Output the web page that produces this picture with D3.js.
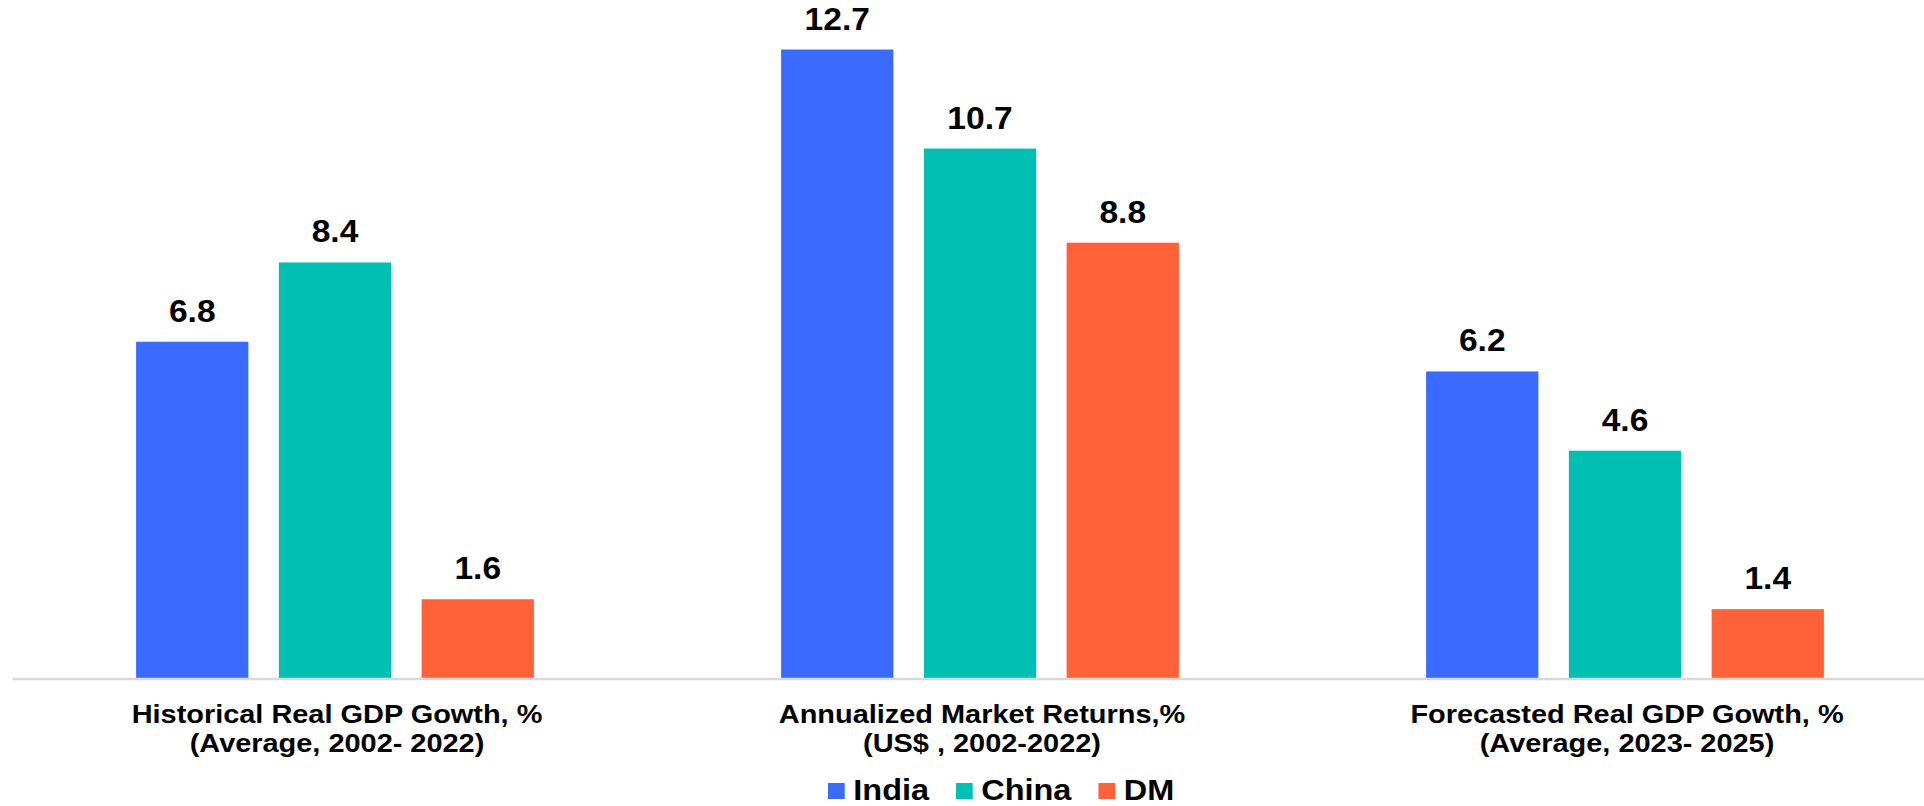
<!DOCTYPE html>
<html>
<head>
<meta charset="utf-8">
<script src="https://cdn.jsdelivr.net/npm/d3@7"></script>
<style>
  html, body { margin: 0; padding: 0; background: #ffffff; }
  svg { display: block; }
  text { font-family: "Liberation Sans", Arial, Helvetica, sans-serif; font-weight: bold; fill: #000; }
</style>
</head>
<body>
<svg id="chart" width="1924" height="806"></svg>
<script>
// Metric groups along the x axis (two-line labels)
const categories = [
  ["Historical Real GDP Gowth, %", "(Average, 2002- 2022)"],
  ["Annualized Market Returns,%", "(US$ , 2002-2022)"],
  ["Forecasted Real GDP Gowth, %", "(Average, 2023- 2025)"]
];
const seriesNames = ["India", "China", "DM"];
const seriesColors = ["#3A6BFE", "#02BFB3", "#FF6139"];

// Values per series, one per metric group
const india = [6.8, 12.7, 6.2];
const china = [8.4, 10.7, 4.6];
const dm = [1.6, 8.8, 1.4];

const seriesValues = [india, china, dm];
const stretch = 1.1; // horizontal widening of all chart text

const svg = d3.select("#chart");
const baseY = 678.5;

const x0 = d3.scaleBand()
  .domain(d3.range(categories.length))
  .range([12.5, 1947.5])
  .paddingInner(0).paddingOuter(0);

const groupWidth = 397.8;
const x1 = d3.scaleBand()
  .domain(seriesNames)
  .range([-groupWidth / 2, groupWidth / 2])
  .paddingInner(0.2136).paddingOuter(0);

const y = d3.scaleLinear().domain([0, 13.7]).range([baseY, 0]);

const color = d3.scaleOrdinal().domain(seriesNames).range(seriesColors);

const rows = [];
categories.forEach((c, i) => {
  seriesNames.forEach((s, j) => {
    rows.push({ cat: i, series: s, value: seriesValues[j][i] });
  });
});

const cx = i => x0(i) + x0.bandwidth() / 2;

// Bars
svg.append("g").selectAll("rect")
  .data(rows)
  .join("rect")
  .attr("x", d => cx(d.cat) + x1(d.series))
  .attr("y", d => y(d.value))
  .attr("width", x1.bandwidth())
  .attr("height", d => y(0) - y(d.value))
  .attr("fill", d => color(d.series));

// Baseline
svg.append("line")
  .attr("x1", x0.range()[0]).attr("x2", x0.range()[1])
  .attr("y1", baseY + 0.5).attr("y2", baseY + 0.5)
  .attr("stroke", "#d9d9d9").attr("stroke-width", 2.6);

// Value labels
svg.append("g").selectAll("text")
  .data(rows)
  .join("text")
  .attr("transform", d => `translate(${cx(d.cat) + x1(d.series) + x1.bandwidth() / 2},${y(d.value) - 20}) scale(${stretch},1)`)
  .attr("text-anchor", "middle")
  .style("font-size", "30.5px")
  .text(d => d.value.toFixed(1));

// Category labels
const catG = svg.append("g").selectAll("g")
  .data(categories)
  .join("g")
  .attr("transform", (d, i) => `translate(${cx(i) + 2},0)`);
catG.each(function(lines) {
  lines.forEach((line, k) => {
    d3.select(this).append("text")
      .attr("transform", `translate(0,${723.3 + k * 28.7}) scale(${stretch},1)`)
      .attr("text-anchor", "middle")
      .style("font-size", "26.3px")
      .text(line);
  });
});

// Legend
const legend = svg.append("g");
let lx = 828;
seriesNames.forEach(s => {
  legend.append("rect")
    .attr("x", lx).attr("y", 783)
    .attr("width", 16.7).attr("height", 16)
    .attr("fill", color(s));
  const t = legend.append("text")
    .attr("transform", `translate(${lx + 25.3},799.5) scale(${stretch},1)`)
    .style("font-size", "29.5px")
    .text(s);
  const w = t.node().getComputedTextLength() * stretch;
  lx = lx + 25.3 + w + 27;
});
</script>
</body>
</html>
